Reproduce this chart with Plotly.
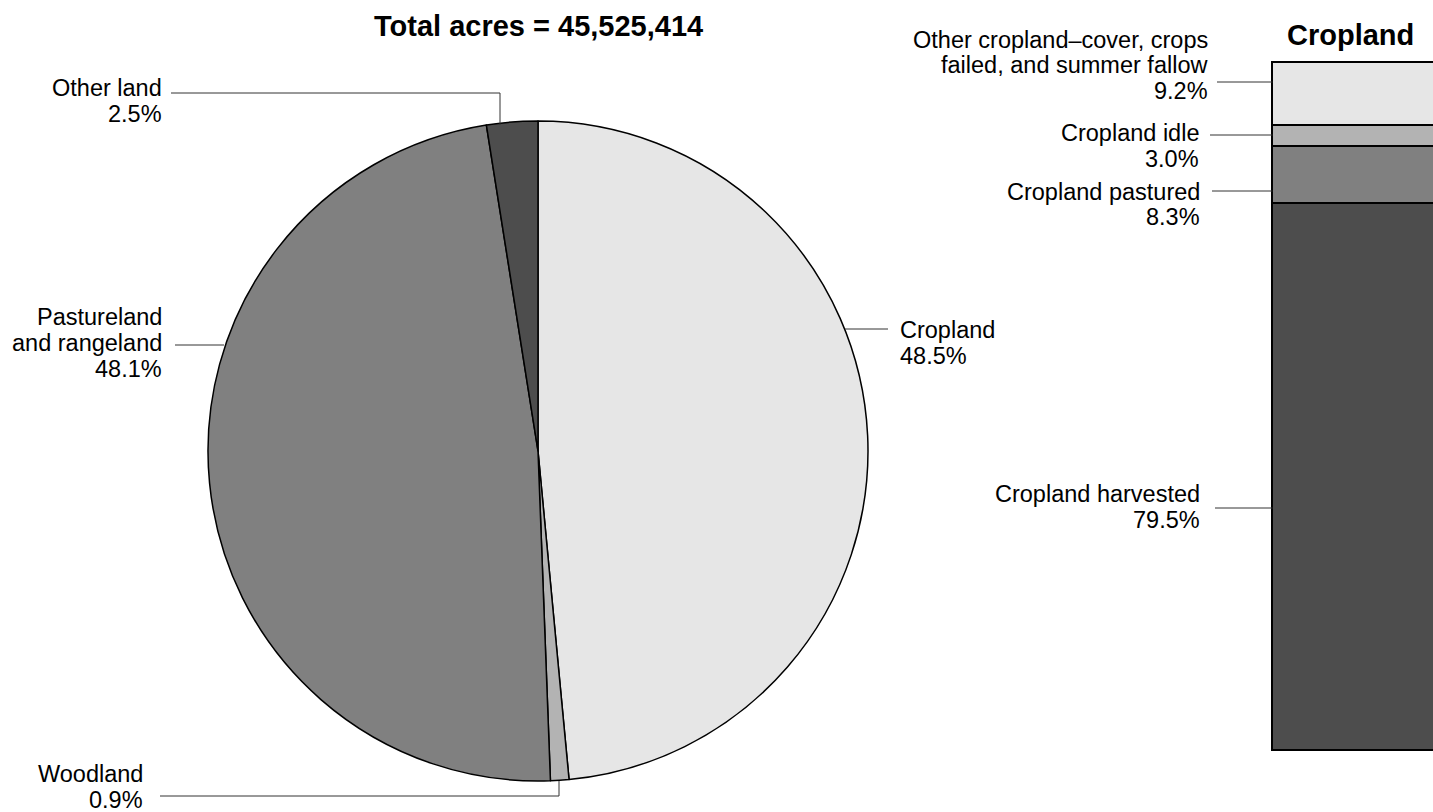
import plotly.graph_objects as go

# ---------------- data ----------------
pie_title = "Total acres = 45,525,414"
pie_names = ["Cropland", "Woodland", "Pastureland and rangeland", "Other land"]
pie_values = [48.5, 0.9, 48.1, 2.5]
pie_colors = ["#e6e6e6", "#b3b3b3", "#808080", "#4d4d4d"]

bar_title = "Cropland"
bar_names = ["Cropland harvested", "Cropland pastured", "Cropland idle",
             "Other cropland\u2013cover, crops failed, and summer fallow"]
bar_values = [79.5, 8.3, 3.0, 9.2]
bar_colors = ["#4d4d4d", "#808080", "#b3b3b3", "#e6e6e6"]

# label line splits (text only)
pie_label_lines = [["Cropland"], ["Woodland"], ["Pastureland", "and rangeland"], ["Other land"]]
bar_label_lines = [["Cropland harvested"], ["Cropland pastured"], ["Cropland idle"],
                   ["Other cropland\u2013cover, crops", "failed, and summer fallow"]]

# ---------------- layout constants (pixels) ----------------
W, H = 1433, 812
FONT = "Liberation Sans, Arial, sans-serif"
LBL = 23.5
LSP = 26

def px(x):
    return x / W

def py(y):
    return 1 - y / H

# pie placement
cx, cy, r = 538, 451, 330
# bar placement
bar_left, bar_top, bar_bottom = 1272.5, 62.7, 751
xr = [-0.52, 0.4]
bw_units = 1.0
upx = (W - bar_left) / (xr[1] - (-0.5))  # px per unit
x0 = bar_left - (-0.5 - xr[0]) * upx
ypad = 0.4
upy = (bar_bottom - bar_top) / 100.0
ydom_bot = bar_bottom + ypad * upy
ydom_top = bar_top - ypad * upy

# label placement: (anchor x, anchor side, first line centre y)
pie_label_pos = [(898, "left", 329.5), (145, "right", 773.5), (164, "right", 316.5), (164, "right", 88)]
bar_label_pos = [(1202, "right", 493.5), (1202, "right", 191.5), (1201, "right", 133), (1210, "right", 39.5)]

# leader lines as pixel polylines
pie_leaders = [[(845, 329), (888, 329)],
               [(160, 796), (559, 796), (559, 781)],
               [(175, 345), (224, 345)],
               [(171, 93), (500, 93), (500, 125)]]
bar_leaders = [[(1215, 508), (bar_left, 508)],
               [(1212, 191), (bar_left, 191)],
               [(1210, 135), (bar_left, 135)],
               [(1217, 82), (bar_left, 82)]]

fig = go.Figure()

fig.add_trace(go.Pie(
    labels=pie_names, values=pie_values, sort=False, direction="clockwise",
    rotation=0, textinfo="none", hoverinfo="label+percent",
    marker=dict(colors=pie_colors, line=dict(color="black", width=1.5)),
    domain=dict(x=[px(cx - r), px(cx + r)], y=[py(cy + r), py(cy - r)]),
    showlegend=False,
))

for name, val, col in zip(bar_names, bar_values, bar_colors):
    fig.add_trace(go.Bar(
        x=[0], y=[val], width=bw_units, name=name, showlegend=False,
        marker=dict(color=col, line=dict(color="black", width=1.5)),
        xaxis="x", yaxis="y",
    ))

annotations = []

def add_lines(lines, pos):
    xa, side, y0 = pos
    for i, t in enumerate(lines):
        annotations.append(dict(
            x=px(xa), y=py(y0 + i * LSP), xref="paper", yref="paper",
            text=t, showarrow=False, xanchor=side, yanchor="middle",
            font=dict(family=FONT, size=LBL, color="black"),
        ))

for lines, v, pos in zip(pie_label_lines, pie_values, pie_label_pos):
    add_lines(lines + [f"{v:.1f}%"], pos)
for lines, v, pos in zip(bar_label_lines, bar_values, bar_label_pos):
    add_lines(lines + [f"{v:.1f}%"], pos)

annotations.append(dict(x=px(cx), y=py(26), xref="paper", yref="paper", text=f"<b>{pie_title}</b>",
                        showarrow=False, xanchor="center", yanchor="middle",
                        font=dict(family=FONT, size=29, color="black")))
annotations.append(dict(x=px(1350), y=py(34.5), xref="paper", yref="paper", text=f"<b>{bar_title}</b>",
                        showarrow=False, xanchor="center", yanchor="middle",
                        font=dict(family=FONT, size=29, color="black")))

shapes = []
for poly in pie_leaders + bar_leaders:
    for (xa, ya), (xb, yb) in zip(poly[:-1], poly[1:]):
        shapes.append(dict(type="line", xref="paper", yref="paper",
                           x0=px(xa), y0=py(ya), x1=px(xb), y1=py(yb),
                           line=dict(color="#333333", width=1)))

fig.update_layout(
    width=W, height=H, margin=dict(l=0, r=0, t=0, b=0),
    paper_bgcolor="white", plot_bgcolor="white",
    barmode="stack", bargap=0,
    xaxis=dict(domain=[px(x0), 1], range=xr, visible=False, fixedrange=True),
    yaxis=dict(domain=[py(ydom_bot), py(ydom_top)], range=[-ypad, 100 + ypad], visible=False, fixedrange=True),
    annotations=annotations, shapes=shapes,
    font=dict(family=FONT),
)

fig.write_html("out.html", config={"displayModeBar": False},
               post_script="document.body.style.margin='0';document.body.style.overflow='hidden';")
